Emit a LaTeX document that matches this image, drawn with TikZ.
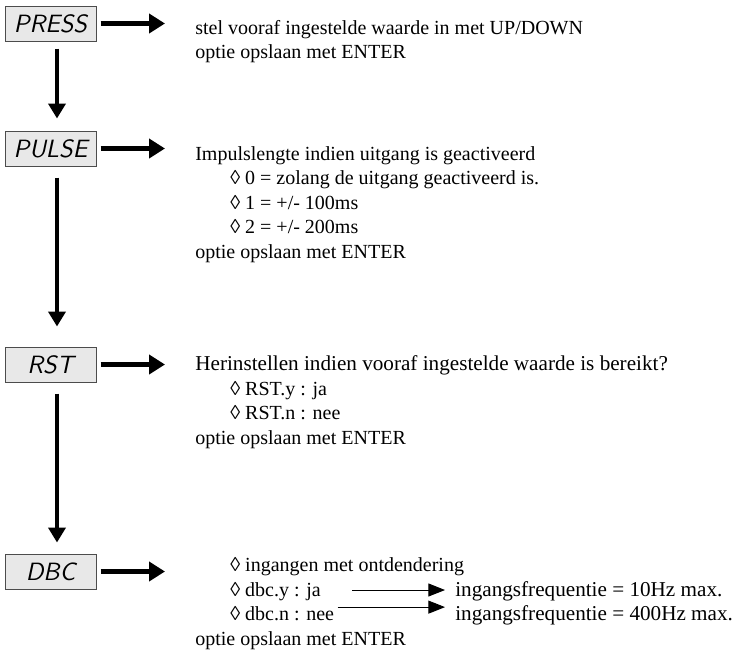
\documentclass[tikz,border=0pt]{standalone}
\usepackage{fontspec}
\setmainfont{Liberation Serif}
\usetikzlibrary{arrows.meta}
\tikzset{
  display/.style={draw=black!70, fill=black!9, line width=0.6pt, minimum width=54.6pt, minimum height=21pt, inner sep=0pt, font=\sffamily\slshape\fontsize{15}{15}\selectfont},
  info/.style={anchor=base west, inner sep=0pt, align=left, font=\fontsize{12}{14.7}\selectfont},
  bigarrow/.style={line width=3pt, -{Triangle[length=9.6pt,width=11.4pt]}},
  downarrow/.style={line width=2.4pt, -{Triangle[length=9pt,width=10.2pt]}},
  thinarrow/.style={line width=0.6pt, -{Triangle[length=10pt,width=7.8pt]}},
}
\newcommand{\ind}{\hspace*{21pt}◊\ }
\newcommand{\wider}{\fontsize{12.7}{14.7}\selectfont}

\begin{document}
\begin{tikzpicture}[x=0.6pt,y=-0.6pt]
			%%%%% START %%%%%
			\useasboundingbox (0, 0) rectangle (741, 650);
			
			\node[display] (press) at (50.5, 23.5) {PRESS};
			\node[display] (pulse) at (50.5, 148.5) {PULSE};
			\node[display] (rst) at (50.5, 364.5) {RST};
			\node[display] (dbc) at (50.5, 571.5) {DBC};
			
			% base = last line of each text
			\node[info] (txtpress) at (195, 58.5) {stel vooraf ingestelde waarde in met UP/DOWN\\optie opslaan met ENTER};
			\node[info] (txtpulse) at (195, 258) {Impulslengte indien uitgang is geactiveerd\\\ind 0 = zolang de uitgang geactiveerd is.\\\ind 1 = +/- 100ms\\\ind 2 = +/- 200ms\\optie opslaan met ENTER};
			\node[info] (txtrst) at (195, 444) {{\wider Herinstellen indien vooraf ingestelde waarde is bereikt?}\\\ind RST.y : ja\\\ind RST.n : nee\\optie opslaan met ENTER};
			
			\node[info] (dbcon) at (195, 571) {\ind ingangen met ontdendering};
			\node[info] (dbcy) at (195, 596) {\ind dbc.y : ja};
			\node[info] (dbcn) at (195, 620) {\ind dbc.n : nee};
			\node[info] (dbcopt) at (195, 645) {optie opslaan met ENTER};
			\node[info, font=\wider] (freqy) at (455, 596) {ingangsfrequentie = 10Hz max.};
			\node[info, font=\wider] (freqn) at (455, 620) {ingangsfrequentie = 400Hz max.};
			
			\draw[bigarrow, shorten <=2.4pt, shorten >=18pt] (press.east) -- (press.east -| txtpress.west);
			\draw[bigarrow, shorten <=2.4pt, shorten >=18pt] (pulse.east) -- (pulse.east -| txtpulse.west);
			\draw[bigarrow, shorten <=2.4pt, shorten >=18pt] (rst.east) -- (rst.east -| txtrst.west);
			\draw[bigarrow, shorten <=2.4pt, shorten >=18pt] (dbc.east) -- (dbc.east -| dbcopt.west);
			
			\draw[downarrow, shorten <=4.2pt, shorten >=7.2pt] ([xshift=3.9pt]press.south) -- ([xshift=3.9pt]pulse.north);
			\draw[downarrow, shorten <=6.6pt, shorten >=12pt] ([xshift=3.9pt]pulse.south) -- ([xshift=3.9pt]rst.north);
			\draw[downarrow, shorten <=6.6pt, shorten >=6.6pt] ([xshift=3.9pt]rst.south) -- ([xshift=3.9pt]dbc.north);
			
			\coordinate (yfrom) at (352, 590);
			\draw[thinarrow, shorten >=6pt] (yfrom) -- (yfrom -| freqy.west);
			\draw[thinarrow, shorten <=2pt, shorten >=6pt] ([yshift=3.6pt]dbcn.east) -- ([yshift=3.6pt]dbcn.east -| freqn.west);
			
			%%%%% END %%%%%
\end{tikzpicture}
\end{document}
